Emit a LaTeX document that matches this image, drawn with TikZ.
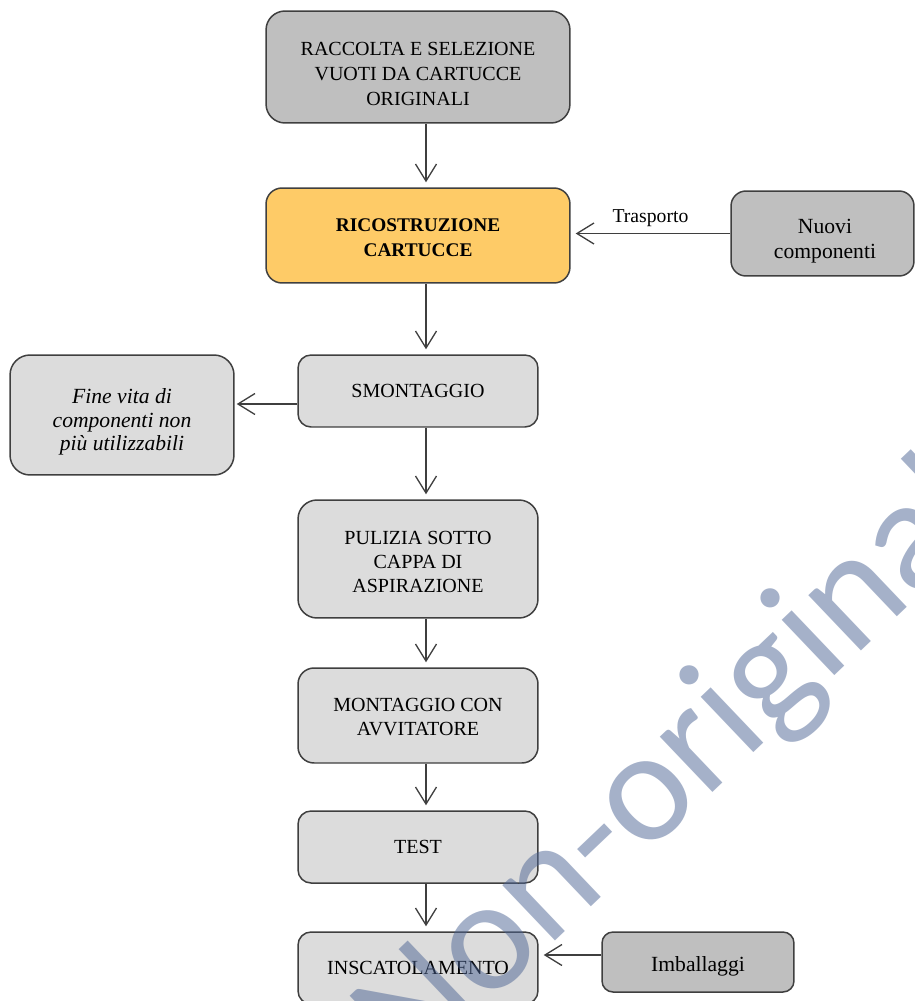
\documentclass[tikz,border=0pt]{standalone}
\usepackage{fontspec}
\setmainfont{Liberation Serif}
\newfontfamily\wmfont{Carlito}
\usetikzlibrary{arrows.meta, positioning}
\definecolor{boxline}{HTML}{3F3F3F}
\definecolor{darkfill}{HTML}{BFBFBF}
\definecolor{lightfill}{HTML}{DCDCDC}
\definecolor{orangefill}{HTML}{FECB67}
\definecolor{wmblue}{HTML}{4B6393}
\newcommand\sinkby[1]{\rule{0pt}{#1}}

\begin{document}
\begin{tikzpicture}[x=0.02cm, y=-0.02cm,
  box/.style={draw=boxline, line width=0.85pt, rounded corners=0.26cm,
    align=center, inner sep=0pt, fill=lightfill,
    font=\fontsize{11.4}{13.9}\selectfont},
  lowbox/.style={box, font=\fontsize{12.3}{13.9}\selectfont},
  arr/.style={draw=boxline, line width=0.75pt,
    -{Straight Barb[length=0.34cm, width=0.42cm, line width=0.75pt]},
    shorten >=0.1cm}]
\useasboundingbox (0,0) rectangle (915,1001);

% main column
\node[box, fill=darkfill, minimum width=6.08cm, minimum height=2.24cm, rounded corners=0.38cm,
  font=\fontsize{11.4}{14.3}\selectfont]
  (raccolta) at (418,67) {\sinkby{15.6pt}RACCOLTA E SELEZIONE\\VUOTI DA CARTUCCE\\ORIGINALI};
\node[box, fill=orangefill, minimum width=6.08cm, minimum height=1.9cm, rounded corners=0.32cm,
  font=\fontsize{11}{13.9}\selectfont\bfseries]
  (ricostr) at (418,235.5) {\sinkby{9.7pt}RICOSTRUZIONE\\CARTUCCE};
\node[box, minimum width=4.8cm, minimum height=1.44cm] (smont) at (418,391) {SMONTAGGIO};
\node[box, minimum width=4.8cm, minimum height=2.36cm, rounded corners=0.38cm]
  (pulizia) at (418,559) {\sinkby{11pt}PULIZIA SOTTO\\CAPPA DI\\ASPIRAZIONE};
\node[box, minimum width=4.8cm, minimum height=1.9cm, rounded corners=0.32cm]
  (montagg) at (418,715.5) {\sinkby{9.3pt}MONTAGGIO CON\\AVVITATORE};
\node[box, minimum width=4.8cm, minimum height=1.44cm] (test) at (418,847) {TEST};
\node[box, minimum width=4.8cm, minimum height=1.44cm] (inscat) at (418,968) {INSCATOLAMENTO};

% side boxes
\node[lowbox, fill=darkfill, minimum width=3.66cm, minimum height=1.7cm, rounded corners=0.3cm]
  (nuovi) at (822.5,233.5) {\sinkby{17pt}\hspace*{0.1cm}Nuovi\\\hspace*{0.1cm}componenti};
\node[lowbox, minimum width=4.48cm, minimum height=2.4cm, rounded corners=0.4cm,
  font=\fontsize{12.3}{13.2}\selectfont\itshape]
  (finevita) at (122,415) {\sinkby{16.4pt}Fine vita di\\componenti non\\più utilizzabili};
\node[lowbox, fill=darkfill, minimum width=3.84cm, minimum height=1.2cm, rounded corners=0.22cm]
  (imball) at (698,962) {\sinkby{13.4pt}Imballaggi};

% connectors
\coordinate (axis) at (426,0);
\draw[arr] (raccolta.south -| axis) -- (ricostr.north -| axis);
\draw[arr] (ricostr.south -| axis) -- (smont.north -| axis);
\draw[arr] (smont.south -| axis) -- (pulizia.north -| axis);
\draw[arr] (pulizia.south -| axis) -- (montagg.north -| axis);
\draw[arr] (montagg.south -| axis) -- (test.north -| axis);
\draw[arr] (test.south -| axis) -- (inscat.north -| axis);
\draw[arr] (nuovi.west) -- node[above, font=\fontsize{11.2}{13}\selectfont, pos=0.5] (trasp) {Trasporto} (ricostr.east |- nuovi.west);
\draw[arr, shorten >=0.04cm] (smont.west |- 0,404) coordinate (sw) -- (finevita.east |- sw);
\draw[arr] (imball.west |- 0,955) coordinate (iw) -- (inscat.east |- iw);

% watermark
\node[font=\wmfont\fontsize{91}{91}\selectfont, text=wmblue, opacity=0.5,
  rotate=43.6, anchor=base, inner sep=0pt] (wmark) at (704,800) {Non-original};
\end{tikzpicture}
\end{document}
